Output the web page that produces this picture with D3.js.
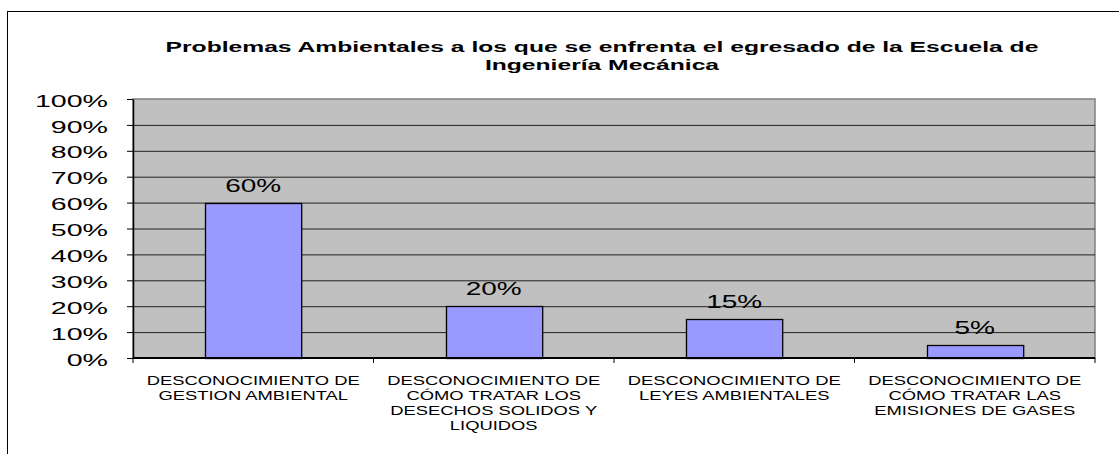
<!doctype html>
<html>
<head>
<meta charset="utf-8">
<style>
    body { margin: 0; background: #fff; }
    text { font-family: Arial, "Liberation Sans", sans-serif; fill: #000; }
</style>
</head>
<body>

<div id="container"></div>

<script src="https://cdnjs.cloudflare.com/ajax/libs/d3/7.8.5/d3.min.js"></script>
<script type="text/javascript">

    // data
    var titleLines = ["Problemas Ambientales a los que se enfrenta el egresado de la Escuela de",
        "Ingeniería Mecánica"];
    var categories = [
        ["DESCONOCIMIENTO DE", "GESTION AMBIENTAL"],
        ["DESCONOCIMIENTO DE", "CÓMO TRATAR LOS", "DESECHOS SOLIDOS Y", "LIQUIDOS"],
        ["DESCONOCIMIENTO DE", "LEYES AMBIENTALES"],
        ["DESCONOCIMIENTO DE", "CÓMO TRATAR LAS", "EMISIONES DE GASES"]
    ];
    var values = [0.60, 0.20, 0.15, 0.05];
    var yTicks = [0, 0.1, 0.2, 0.3, 0.4, 0.5, 0.6, 0.7, 0.8, 0.9, 1.0];

    var width = 1119, height = 454;
    var plot = {left: 133, right: 1095, top: 99, bottom: 358};

    var svg = d3.select("#container").append("svg")
        .attr("width", width)
        .attr("height", height);

    // the picture's text is drawn wider than normal glyphs
    function stretch(sel, f) {
        sel.each(function () {
            var w = this.getComputedTextLength();
            this.setAttribute("textLength", w * f);
            this.setAttribute("lengthAdjust", "spacingAndGlyphs");
        });
    }

    // chart area border (runs off the right and bottom)
    svg.append("rect")
        .attr("x", 7.5).attr("y", 11.5)
        .attr("width", 1300).attr("height", 600)
        .attr("fill", "#fff")
        .attr("stroke", "#000");

    var x = d3.scaleBand()
        .domain(d3.range(categories.length))
        .range([plot.left, plot.right])
        .paddingInner(0.6)
        .paddingOuter(0.3);

    var y = d3.scaleLinear()
        .domain([0, 1])
        .range([plot.bottom, plot.top]);

    // plot background
    svg.append("rect")
        .attr("x", plot.left).attr("y", plot.top)
        .attr("width", plot.right - plot.left)
        .attr("height", plot.bottom - plot.top)
        .attr("fill", "#c0c0c0")
        .attr("stroke", "#808080")
        .attr("stroke-width", 1.5);

    // grid
    var grid = svg.append("g")
        .attr("transform", "translate(" + plot.left + ",0)")
        .call(d3.axisLeft(y)
            .tickValues(yTicks.slice(1, -1))
            .tickSize(-(plot.right - plot.left))
            .tickFormat(""));
    grid.select(".domain").remove();
    grid.selectAll(".tick line")
        .attr("stroke", "#222")
        .attr("stroke-width", 1);

    // bars
    svg.selectAll(".bar")
        .data(values)
        .enter().append("rect")
        .attr("class", "bar")
        .attr("x", function (d, i) { return Math.round(x(i)) + 0.5; })
        .attr("y", function (d) { return Math.round(y(d)) + 0.5; })
        .attr("width", x.bandwidth())
        .attr("height", function (d) { return y(0) - Math.round(y(d)); })
        .attr("fill", "#9999ff")
        .attr("stroke", "#000")
        .attr("stroke-width", 1.3);

    // value labels
    var vlabels = svg.selectAll(".vlabel")
        .data(values)
        .enter().append("text")
        .attr("class", "vlabel")
        .attr("x", function (d, i) { return x(i) + x.bandwidth() / 2; })
        .attr("y", function (d) { return y(d) - 11; })
        .attr("text-anchor", "middle")
        .style("font-size", "17.5px")
        .text(d3.format(".0%"));
    stretch(vlabels, 1.6);

    // y axis
    var yAxis = svg.append("g")
        .attr("transform", "translate(" + plot.left + ",0)")
        .call(d3.axisLeft(y)
            .tickValues(yTicks)
            .tickSize(6)
            .tickSizeOuter(0)
            .tickPadding(19)
            .tickFormat(d3.format(".0%")));
    yAxis.select(".domain").attr("stroke", "#000").attr("stroke-width", 1.5);
    yAxis.selectAll(".tick line").attr("stroke", "#000");
    yAxis.selectAll(".tick text")
        .attr("dy", "0.42em")
        .style("font-size", "17px")
        .attr("fill", "#000");
    stretch(yAxis.selectAll(".tick text"), 1.68);

    // x axis
    var bounds = d3.range(categories.length + 1).map(function (i) {
        return plot.left + i * x.step();
    });
    svg.append("line")
        .attr("x1", plot.left).attr("x2", plot.right)
        .attr("y1", y(0)).attr("y2", y(0))
        .attr("stroke", "#000")
        .attr("stroke-width", 2);
    svg.selectAll(".xtick")
        .data(bounds)
        .enter().append("line")
        .attr("class", "xtick")
        .attr("x1", function (d) { return d; })
        .attr("x2", function (d) { return d; })
        .attr("y1", y(0))
        .attr("y2", y(0) + 5)
        .attr("stroke", "#000");

    // category labels, one text per line
    var catG = svg.selectAll(".catg")
        .data(categories)
        .enter().append("g")
        .attr("class", "catg");
    catG.selectAll("text")
        .data(function (d, i) { return d.map(function (s, k) { return {s: s, i: i, k: k}; }); })
        .enter().append("text")
        .attr("x", function (d) { return x(d.i) + x.bandwidth() / 2; })
        .attr("y", function (d) { return 385 + d.k * 15; })
        .attr("text-anchor", "middle")
        .style("font-size", "13.5px")
        .text(function (d) { return d.s; });
    stretch(catG.selectAll("text"), 1.36);

    // title
    var title = svg.selectAll(".title")
        .data(titleLines)
        .enter().append("text")
        .attr("class", "title")
        .attr("x", 602)
        .attr("y", function (d, i) { return 52 + i * 18; })
        .attr("text-anchor", "middle")
        .style("font-size", "14px")
        .style("font-weight", "bold")
        .text(function (d) { return d; });
    stretch(title, 1.76);

</script>
</body>
</html>
